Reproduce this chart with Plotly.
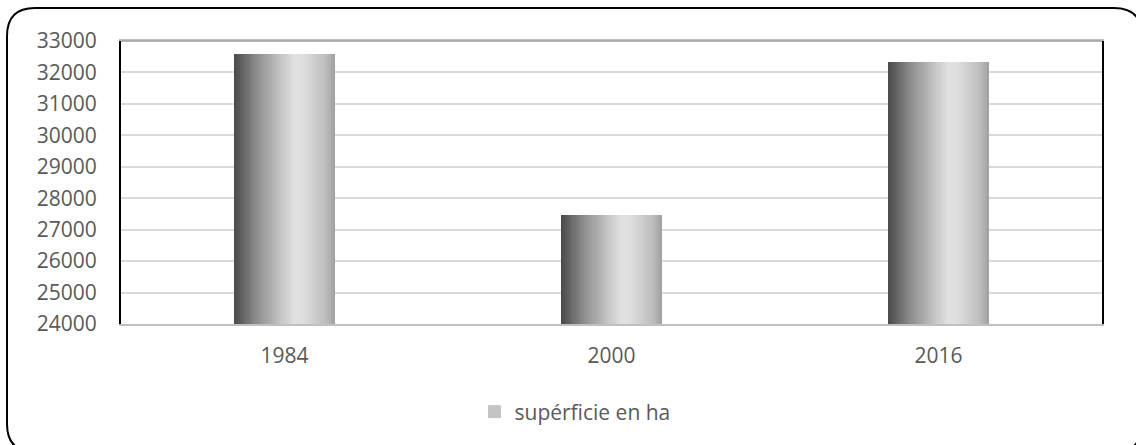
import plotly.graph_objects as go

# ---- data ----
categories = ["1984", "2000", "2016"]
superficie = [32600, 27460, 32330]
series_name = "supérficie en ha"
y_ticks = [24000, 25000, 26000, 27000, 28000, 29000, 30000, 31000, 32000, 33000]
y_tick_labels = [str(v) for v in y_ticks]

# ---- layout geometry (pixels) ----
FW, FH = 1136, 445
L, R, T, B = 121, 34, 41, 121
PW, PH = FW - L - R, FH - T - B

def px(x):
    return (x - L) / PW

def py(y):
    return (FH - B - y) / PH

# gradient stops across bar width (position, gray level)
stops = [(0.0, 74), (0.08, 96), (0.2, 135), (0.35, 170), (0.5, 205),
         (0.6, 225), (0.68, 222), (0.8, 205), (0.9, 190), (1.0, 160)]

def gray_at(t):
    for (p0, g0), (p1, g1) in zip(stops[:-1], stops[1:]):
        if p0 <= t <= p1:
            f = (t - p0) / (p1 - p0)
            return round(g0 + f * (g1 - g0))
    return stops[-1][1]

fig = go.Figure()
BW = 0.31
N = 48
sw = BW / N
for i in range(N):
    g = gray_at((i + 0.5) / N)
    fig.add_trace(go.Bar(
        x=categories, y=superficie,
        offset=-BW / 2 + i * sw, width=sw * (1.15 if i < N - 1 else 1.0),
        marker=dict(color=f"rgb({g},{g},{g})", line=dict(width=0)),
        showlegend=False, hoverinfo="skip",
    ))

# legend entry
fig.add_trace(go.Bar(
    x=categories, y=[None] * len(categories), name=series_name,
    marker=dict(color="#c4c4c4", line=dict(color="#c4c4c4", width=1)), showlegend=True,
))

# rounded chart border
x0, y0, x1, y1, r = 7, 8, 1142, 452, 28
path = (f"M {px(x0 + r)} {py(y0)} L {px(x1 - r)} {py(y0)} "
        f"Q {px(x1)} {py(y0)} {px(x1)} {py(y0 + r)} "
        f"L {px(x1)} {py(y1 - r)} Q {px(x1)} {py(y1)} {px(x1 - r)} {py(y1)} "
        f"L {px(x0 + r)} {py(y1)} Q {px(x0)} {py(y1)} {px(x0)} {py(y1 - r)} "
        f"L {px(x0)} {py(y0 + r)} Q {px(x0)} {py(y0)} {px(x0 + r)} {py(y0)} Z")
fig.add_shape(type="path", xref="paper", yref="paper", path=path,
              line=dict(color="black", width=2), fillcolor="rgba(0,0,0,0)", layer="above")

# darker top frame line
fig.add_shape(type="line", xref="paper", yref="paper", x0=0, x1=1, y0=1, y1=1,
              line=dict(color="#a0a0a0", width=1.5), layer="above")

font = dict(family="Open Sans, Liberation Sans, sans-serif", size=21, color="#595959")

fig.update_layout(
    width=FW, height=FH,
    margin=dict(l=L, r=R, t=T, b=B, autoexpand=False),
    paper_bgcolor="white", plot_bgcolor="white",
    barmode="overlay", bargap=0,
    font=font,
    showlegend=True,
    legend=dict(orientation="h", x=px(575), y=py(412), xanchor="center", yanchor="middle",
                font=dict(family=font["family"], size=21, color="#595959"),
                itemwidth=30, bgcolor="rgba(0,0,0,0)"),
    xaxis=dict(showline=True, linecolor="#bfbfbf", linewidth=2, mirror=True,
               showgrid=False, ticks="", ticklabelstandoff=12, tickfont=font,
               fixedrange=True),
    yaxis=dict(range=[24000, 33000], tickvals=y_ticks, ticktext=y_tick_labels,
               showline=True, linecolor="black",
               linewidth=2, mirror=True, showgrid=True, gridcolor="#d9d9d9", gridwidth=2,
               ticks="", ticklabelstandoff=18, tickfont=font, zeroline=False),
)

fig.write_html("out.html", config={"displayModeBar": False},
               post_script="document.body.style.margin='0';document.body.style.overflow='hidden';")
